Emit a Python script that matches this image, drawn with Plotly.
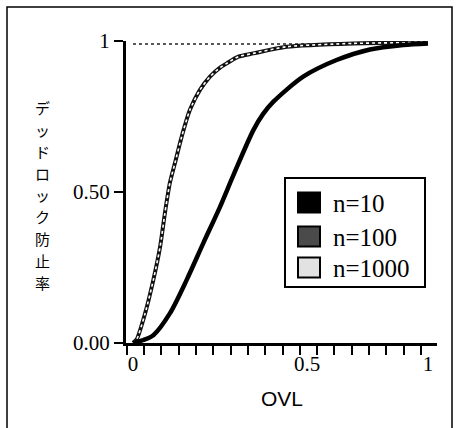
import plotly.graph_objects as go

# ---- data ----
ovl_n10 = [0, 0.035, 0.069, 0.125, 0.182, 0.238, 0.295, 0.34, 0.408, 0.44, 0.476, 0.577, 0.69, 0.803, 0.916, 1.0]
rate_n10 = [0, 0.01, 0.026, 0.098, 0.209, 0.330, 0.451, 0.555, 0.705, 0.757, 0.799, 0.882, 0.937, 0.972, 0.987, 0.992]

ovl_n100 = [0, 0.0125, 0.041, 0.069, 0.092, 0.108, 0.125, 0.142, 0.165, 0.193, 0.227, 0.261,
            0.295, 0.318, 0.357, 0.408, 0.521, 0.746, 1.0]
rate_n100 = [0, 0.012, 0.098, 0.209, 0.319, 0.429, 0.53, 0.595, 0.683, 0.772, 0.838, 0.882,
             0.912, 0.926, 0.948, 0.959, 0.981, 0.992, 0.995]

ovl_n1000 = [0, 0.25, 0.5, 0.75, 1.0]
rate_n1000 = [0.99, 0.99, 0.99, 0.99, 0.99]

series_names = ["n=10", "n=100", "n=1000"]
y_tick_vals = [0, 0.5, 1]
y_tick_text = ["0.00", "0.50", "1"]
x_tick_vals = [0, 0.59, 1]
x_tick_text = ["0", "0.5", "1"]
x_title = "OVL"
y_title = "デッドロック防止率"

W, H = 456, 428
L, R, T, B = 126, 19, 41, 85
PW, PH = W - L - R, H - T - B


def px(x):
    return (x - L) / PW


def py(y):
    return (H - B - y) / PH


SERIF = "Liberation Serif, Times New Roman, serif"
SANS = "Liberation Sans, Arial, sans-serif"
JP = "Noto Sans CJK JP, sans-serif"

fig = go.Figure()
fig.add_trace(go.Scatter(x=ovl_n1000, y=rate_n1000, mode="lines", name=series_names[2],
                         line=dict(color="#222", width=1.6, dash="dot"), showlegend=False))
fig.add_trace(go.Scatter(x=ovl_n100, y=rate_n100, mode="lines", name=series_names[1],
                         line=dict(color="#111", width=4, shape="spline", smoothing=0.7),
                         showlegend=False))
fig.add_trace(go.Scatter(x=ovl_n100, y=rate_n100, mode="lines", name=series_names[1],
                         line=dict(color="white", width=1.6, dash="dot", shape="spline", smoothing=0.7),
                         showlegend=False, hoverinfo="skip"))
fig.add_trace(go.Scatter(x=ovl_n10, y=rate_n10, mode="lines", name=series_names[0],
                         line=dict(color="black", width=4.5, shape="spline", smoothing=0.8),
                         showlegend=False))

shapes = []
annotations = []

# outer frame
shapes.append(dict(type="rect", xref="paper", yref="paper",
                   x0=px(7), x1=px(452), y0=py(432), y1=py(7),
                   line=dict(color="black", width=1.5), layer="below"))

# legend box
shapes.append(dict(type="rect", xref="paper", yref="paper",
                   x0=px(285), x1=px(425), y0=py(287), y1=py(178),
                   line=dict(color="black", width=2), fillcolor="white"))
swatch_fill = ["black", "#4a4a4a", "#e2e2e2"]
row_centers = [202.5, 236.5, 267.5]
for name, fill, cy in zip(series_names, swatch_fill, row_centers):
    shapes.append(dict(type="rect", xref="paper", yref="paper",
                       x0=px(298), x1=px(320), y0=py(cy + 10), y1=py(cy - 10),
                       line=dict(color="black", width=2), fillcolor=fill))
    annotations.append(dict(text=name, xref="paper", yref="paper", x=px(331), y=py(cy + 1),
                            xanchor="left", yanchor="middle", showarrow=False,
                            font=dict(family=SERIF, size=25, color="black")))

# y-axis title, stacked vertically, one character per text
pitch = 21.8
mid = 195
n_ch = len(y_title)
for i, ch in enumerate(y_title):
    cy = mid + (i - (n_ch - 1) / 2) * pitch
    annotations.append(dict(text=ch, xref="paper", yref="paper", x=px(42), y=py(cy),
                            xanchor="center", yanchor="middle", showarrow=False,
                            borderpad=0,
                            font=dict(family=JP, size=15, color="black")))

# x-axis title
annotations.append(dict(text=x_title, xref="paper", yref="paper", x=px(282), y=py(398),
                        xanchor="center", yanchor="middle", showarrow=False,
                        font=dict(family=SANS, size=21, color="black")))

fig.update_layout(
    width=W, height=H,
    margin=dict(l=L, r=R, t=T, b=B, pad=0),
    paper_bgcolor="white", plot_bgcolor="white",
    showlegend=False,
    shapes=shapes, annotations=annotations,
    xaxis=dict(range=[-0.0237, 1.0305], showgrid=False, zeroline=False,
               showline=True, linecolor="black", linewidth=3,
               tickmode="array", tickvals=x_tick_vals, ticktext=x_tick_text,
               ticks="outside", ticklen=0, tickcolor="rgba(0,0,0,0)",
               tickfont=dict(family=SERIF, size=21, color="black"),
               minor=dict(ticks="outside", ticklen=9, tickwidth=2, tickcolor="black",
                          tick0=-0.0214, dtick=0.0587, showgrid=False)),
    yaxis=dict(range=[0, 1], showgrid=False, zeroline=False,
               showline=True, linecolor="black", linewidth=3,
               tickmode="array", tickvals=y_tick_vals, ticktext=y_tick_text,
               ticks="outside", ticklen=9, tickwidth=1.5, tickcolor="black",
               tickfont=dict(family=SERIF, size=21, color="black")),
)

fig.write_html("out.html", config={"displayModeBar": False},
               post_script="document.body.style.margin='0';document.body.style.padding='0';")
